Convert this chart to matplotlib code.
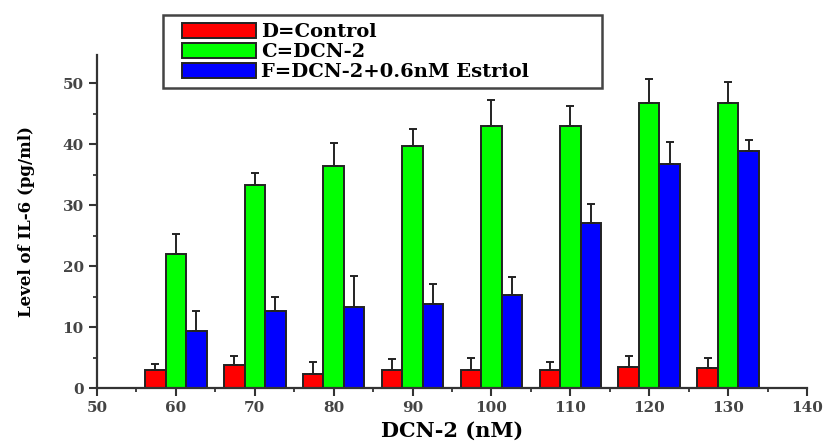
import matplotlib

matplotlib.use('Agg')

import matplotlib.pyplot as plt
import numpy as np
from matplotlib.patches import Rectangle

# values
doses = [60, 70, 80, 90, 100, 110, 120, 130]
control = [3.0, 3.8, 2.3, 3.0, 3.0, 3.0, 3.5, 3.2]
control_err = [1.0, 1.4, 2.0, 1.7, 2.0, 1.3, 1.7, 1.7]
dcn2 = [21.9, 33.3, 36.4, 39.6, 43.0, 43.0, 46.7, 46.7]
dcn2_err = [3.3, 2.0, 3.7, 2.9, 4.3, 3.2, 4.0, 3.5]
estriol = [9.3, 12.6, 13.3, 13.7, 15.2, 27.1, 36.7, 38.9]
estriol_err = [3.3, 2.4, 5.1, 3.3, 3.0, 3.0, 3.7, 1.8]

labels = ['D=Control', 'C=DCN-2', 'F=DCN-2+0.6nM Estriol']
colors = ['#ff0000', '#00ff00', '#0000ff']

plt.rcParams['font.family'] = ['DejaVu Serif']
plt.rcParams['font.weight'] = 'bold'

W, H = 828, 441
fig = plt.figure(figsize=(W / 100, H / 100), dpi=100)
ax = fig.add_axes([97 / W, 53 / H, 710 / W, 333 / H])

x = np.array(doses, dtype=float)
width = 2.6
series = [(control, control_err), (dcn2, dcn2_err), (estriol, estriol_err)]
for i, (vals, errs) in enumerate(series):
    ax.bar(x + (i - 1) * width, vals, width, color=colors[i], edgecolor='#222222',
           linewidth=1.4, label=labels[i], zorder=2,
           yerr=[np.zeros(len(errs)), errs],
           error_kw=dict(ecolor='#222222', elinewidth=1.4, capsize=3, capthick=1.4))

ax.set_xlim(50, 140)
ax.set_ylim(0, 54.6)
ax.set_xticks(range(50, 141, 10))
ax.set_xticks(range(55, 140, 10), minor=True)
ax.set_yticks(range(0, 51, 10))
ax.set_yticks(range(5, 55, 10), minor=True)

for side in ('top', 'right'):
    ax.spines[side].set_visible(False)
for side in ('left', 'bottom'):
    ax.spines[side].set_linewidth(1.6)
    ax.spines[side].set_color('#333333')

ax.tick_params(which='major', direction='out', length=6, width=1.5, colors='#333333',
               labelsize=11, labelcolor='#444444')
ax.tick_params(which='minor', direction='out', length=3, width=1.3, colors='#333333')

ax.set_xlabel('DCN-2 (nM)', fontsize=15, fontweight='bold', labelpad=4)
ax.set_ylabel('Level of IL-6 (pg/ml)', fontsize=12, fontweight='bold', labelpad=20)

# legend box drawn separately so the entries can sit inset like the original
fig.patches.append(Rectangle((163 / W, 1 - 88 / H), 439 / W, 73 / H, transform=fig.transFigure,
                             facecolor='white', edgecolor='#444444', linewidth=1.8, zorder=3))
leg = fig.legend(loc='upper left', bbox_to_anchor=(182 / W, 1 - 23 / H),
                 fontsize=14, frameon=False,
                 handlelength=3.8, handleheight=0.8, labelspacing=0.1,
                 borderpad=0, handletextpad=0.25, borderaxespad=0)
leg.set_zorder(4)

fig.savefig('out.png', dpi=100)
